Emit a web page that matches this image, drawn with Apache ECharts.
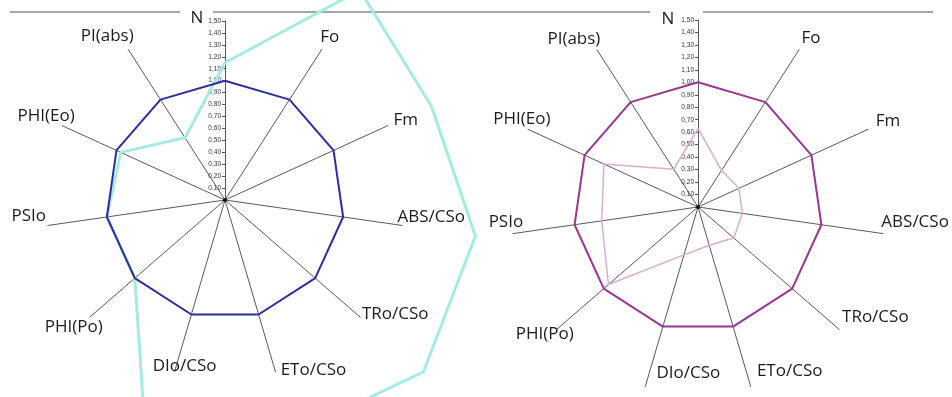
<!DOCTYPE html>
<html>
<head>
<meta charset="utf-8">
<script src="https://cdn.jsdelivr.net/npm/echarts@6/dist/echarts.min.js"></script>
<style>
  html, body { margin: 0; padding: 0; background: #fff; }
  #chart { width: 952px; height: 397px; }
</style>
</head>
<body>
<div id="chart"></div>
<script>
// JIP-test parameters, listed clockwise from the top axis
const parameters = ['N', 'Fo', 'Fm', 'ABS/CSo', 'TRo/CSo', 'ETo/CSo', 'DIo/CSo', 'PHI(Po)', 'PSIo', 'PHI(Eo)', 'PI(abs)'];

// Normalised values (control = 1)
const controlLeft  = [1, 1, 1, 1, 1, 1, 1, 1, 1, 1, 1];
const treatedLeft  = [1.15, 2.09, 1.90, 2.12, 2.20, 2.04, 2.31, 1.00, 1.00, 0.96, 0.62];
const controlRight = [1, 1, 1, 1, 1, 1, 1, 1, 1, 1, 1];
const treatedRight = [0.63, 0.35, 0.36, 0.36, 0.38, 0.32, 0.40, 0.95, 0.78, 0.83, 0.36];

// Scale shown on the N axis
const axisMax = 1.5;
const axisStep = 0.1;

// Nudges [dx, dy] of each axis name from the axis end (same order as parameters)
const nameNudgeLeft  = [[-28, -3], [8, -12], [18, -5], [29, -8], [35, -3], [38, -2], [10, -6], [-16, 10], [-19, -9], [-16, -9], [-21, -13]];
const nameNudgeRight = [[-30, -1], [12, -12], [20, -8], [32, -11], [36, -12], [39, -15], [43, -13], [-12, 5], [-7, -11], [-6, -10], [-23, -11]];

// Plot geometry
const leftCenter = [225, 200], leftRadius = 179;
const rightCenter = [698, 207], rightRadius = 187;

// ECharts lays indicators out counter-clockwise, so keep N first and reverse the rest
function ccw(arr) { return [arr[0]].concat(arr.slice(1).reverse()); }

function indicators() {
  return ccw(parameters).map(function (name, i) {
    const ind = { name: name, min: 0, max: axisMax };
    if (i === 0) {
      ind.axisLabel = {
        show: true, fontSize: 6.5, color: '#333', margin: 4,
        fontFamily: 'Liberation Sans Narrow, Liberation Sans',
        formatter: function (v) { return v === 0 ? '' : v.toFixed(2).replace('.', ','); }
      };
      ind.axisTick = { show: true, length: 3, lineStyle: { color: '#555', width: 1 } };
    }
    return ind;
  });
}

// One rich style per name; padding shifts the centred text by the nudge
function nameRich(nudges) {
  const rich = {};
  parameters.forEach(function (p, k) {
    const dx = nudges[k][0], dy = nudges[k][1];
    rich['n' + k] = {
      fontSize: 17, fontFamily: 'Open Sans', color: '#1c1c1c',
      padding: [dy > 0 ? 2 * dy : 0, dx < 0 ? -2 * dx : 0, dy < 0 ? -2 * dy : 0, dx > 0 ? 2 * dx : 0]
    };
  });
  return rich;
}

function radarBlock(center, radius, nudges) {
  return {
    center: center,
    radius: radius,
    startAngle: 90,
    splitNumber: Math.round(axisMax / axisStep),
    shape: 'polygon',
    indicator: indicators(),
    axisName: {
      align: 'center', verticalAlign: 'middle',
      formatter: function (name) { return '{n' + parameters.indexOf(name) + '|' + name + '}'; },
      rich: nameRich(nudges)
    },
    nameGap: 0,
    splitLine: { show: false },
    splitArea: { show: false },
    axisLine: { lineStyle: { color: '#5a5a5a', width: 1 } },
    axisTick: { show: false },
    axisLabel: { show: false }
  };
}

// Small dot where the spokes meet
function hub(center) {
  return { type: 'circle', z: 10, shape: { cx: center[0], cy: center[1], r: 2 }, style: { fill: '#111' } };
}

const chart = echarts.init(document.getElementById('chart'));
chart.setOption({
  animation: false,
  backgroundColor: '#fff',
  graphic: [
    { type: 'line', shape: { x1: 10, y1: 12, x2: 180, y2: 12 }, style: { stroke: '#888', lineWidth: 1.5 } },
    { type: 'line', shape: { x1: 213, y1: 12, x2: 650, y2: 12 }, style: { stroke: '#888', lineWidth: 1.5 } },
    { type: 'line', shape: { x1: 703, y1: 12, x2: 933, y2: 12 }, style: { stroke: '#888', lineWidth: 1.5 } },
    hub(leftCenter),
    hub(rightCenter)
  ],
  radar: [radarBlock(leftCenter, leftRadius, nameNudgeLeft), radarBlock(rightCenter, rightRadius, nameNudgeRight)],
  series: [
    {
      type: 'radar', radarIndex: 0, symbol: 'none', z: 2,
      data: [
        { value: ccw(treatedLeft), lineStyle: { color: '#a4ece2', width: 3 } },
        { value: ccw(controlLeft), lineStyle: { color: '#2d2d9e', width: 2 } }
      ]
    },
    {
      type: 'radar', radarIndex: 1, symbol: 'none', z: 2,
      data: [
        { value: ccw(treatedRight), lineStyle: { color: '#d9acd6', width: 1.5 } },
        { value: ccw(controlRight), lineStyle: { color: '#9a3590', width: 2 } }
      ]
    }
  ]
});
</script>
</body>
</html>
